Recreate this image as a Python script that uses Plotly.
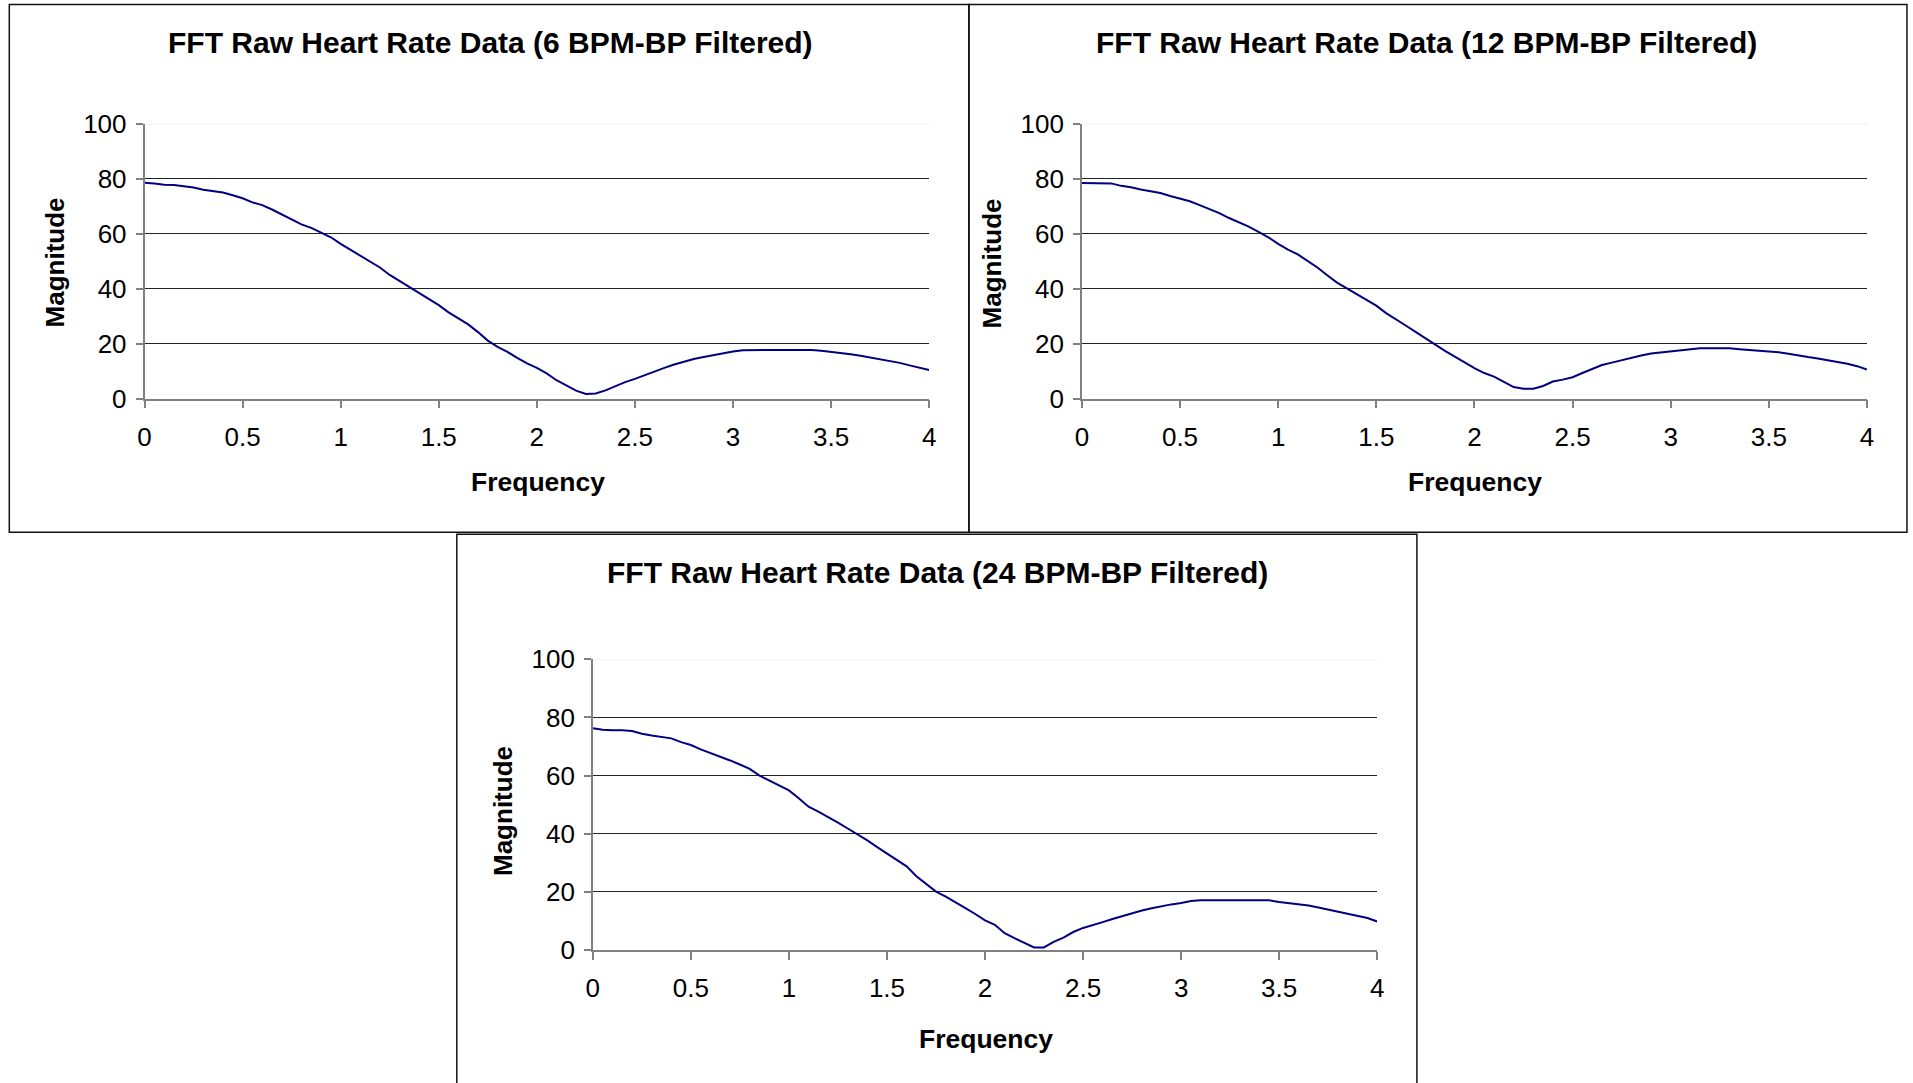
import plotly.graph_objects as go

# ---------------- data ----------------
freq = [0.00, 0.05, 0.10, 0.15, 0.20, 0.25, 0.30, 0.35, 0.40, 0.45,
        0.50, 0.55, 0.60, 0.65, 0.70, 0.75, 0.80, 0.85, 0.90, 0.95,
        1.00, 1.05, 1.10, 1.15, 1.20, 1.25, 1.30, 1.35, 1.40, 1.45,
        1.50, 1.55, 1.60, 1.65, 1.70, 1.75, 1.80, 1.85, 1.90, 1.95,
        2.00, 2.05, 2.10, 2.15, 2.20, 2.25, 2.30, 2.35, 2.40, 2.45,
        2.50, 2.55, 2.60, 2.65, 2.70, 2.75, 2.80, 2.85, 2.90, 2.95,
        3.00, 3.05, 3.10, 3.15, 3.20, 3.25, 3.30, 3.35, 3.40, 3.45,
        3.50, 3.55, 3.60, 3.65, 3.70, 3.75, 3.80, 3.85, 3.90, 3.95,
        4.00]

mag_6bpm = [78.5, 78.3, 77.8, 77.7, 77.3, 76.8, 76.0, 75.5, 75.0, 74.0,
            72.9, 71.4, 70.4, 68.8, 67.0, 64.9, 63.4, 62.1, 60.5, 58.7,
            56.3, 54.2, 52.1, 49.9, 47.7, 45.0, 42.8, 40.9, 38.7, 36.3,
            34.0, 31.4, 29.1, 27.0, 24.2, 21.1, 18.8, 17.0, 14.8, 12.8,
            11.2, 9.2, 6.7, 4.7, 2.9, 1.7, 1.9, 3.0, 4.5, 6.0,
            7.2, 8.6, 10.0, 11.2, 12.4, 13.4, 14.4, 15.1, 15.8, 16.4,
            17.1, 17.6, 17.7, 17.7, 17.7, 17.7, 17.7, 17.7, 17.7, 17.4,
            17.0, 16.7, 16.1, 15.6, 15.0, 14.3, 13.7, 13.0, 12.1, 11.3,
            10.4]

mag_12bpm = [78.4, 78.4, 78.3, 78.3, 77.4, 76.9, 76.1, 75.4, 74.8, 73.7,
             72.8, 71.8, 70.4, 69.0, 67.5, 65.7, 64.2, 62.6, 60.7, 58.7,
             56.3, 54.2, 52.5, 50.2, 47.7, 44.9, 42.2, 40.1, 38.0, 35.9,
             33.8, 31.1, 28.7, 26.6, 24.3, 22.0, 19.5, 17.4, 15.3, 13.1,
             11.1, 9.3, 8.0, 6.1, 4.2, 3.6, 3.6, 4.6, 6.2, 6.9,
             7.8, 9.3, 10.9, 12.2, 13.1, 14.0, 14.9, 15.7, 16.4, 16.8,
             17.1, 17.6, 17.9, 18.3, 18.3, 18.3, 18.3, 18.0, 17.7, 17.6,
             17.3, 16.9, 16.3, 15.6, 15.1, 14.6, 14.0, 13.4, 12.7, 11.8,
             10.6]

mag_24bpm = [76.3, 75.8, 75.6, 75.6, 75.3, 74.4, 73.8, 73.3, 72.8, 71.5,
             70.5, 69.0, 67.8, 66.6, 65.2, 63.8, 62.3, 60.0, 58.3, 56.8,
             54.9, 52.2, 49.3, 47.6, 45.8, 43.8, 41.8, 39.8, 37.7, 35.4,
             33.3, 31.0, 28.8, 25.4, 22.7, 20.1, 18.4, 16.5, 14.4, 12.4,
             10.2, 8.7, 5.8, 4.1, 2.4, 0.9, 0.9, 2.8, 4.3, 6.2,
             7.6, 8.5, 9.6, 10.7, 11.7, 12.7, 13.6, 14.4, 15.1, 15.7,
             16.2, 16.9, 17.1, 17.1, 17.1, 17.1, 17.1, 17.1, 17.1, 17.1,
             16.5, 16.1, 15.7, 15.3, 14.6, 13.9, 13.3, 12.6, 11.8, 11.0,
             9.8]

titles = ["FFT Raw Heart Rate Data (6 BPM-BP Filtered)",
          "FFT Raw Heart Rate Data (12 BPM-BP Filtered)",
          "FFT Raw Heart Rate Data (24 BPM-BP Filtered)"]
x_title = "Frequency"
y_title = "Magnitude"
x_ticks = [0, 0.5, 1, 1.5, 2, 2.5, 3, 3.5, 4]
x_ticktext = ["0", "0.5", "1", "1.5", "2", "2.5", "3", "3.5", "4"]
y_ticks = [0, 20, 40, 60, 80, 100]

# ---------------- layout geometry (target pixels on screen) ----------------
W, H = 1913, 1083
FONT = "Arial, 'Liberation Sans', sans-serif"

# the captured page is slightly offset/scaled; compensate
SX, OX = 0.9926, 6.2
SY, OY = 0.971, 14.4


def px(x):
    return ((x - OX) / SX) / W


def py(y):
    return (H - (y - OY) / SY) / H


# plot areas: (x_left, x_right, y_top, y_bottom)
areas = [(143.7, 928.3, 123.0, 397.5),
         (1081.0, 1866.0, 123.0, 397.5),
         (592.0, 1376.3, 657.8, 948.2)]
# frames: (x0, x1, y_top, y_bottom)
frames = [(8.5, 968.0, 4.0, 531.0),
          (968.0, 1906.0, 4.0, 531.0),
          (456.0, 1416.0, 533.0, 1110.0)]
title_pos = [(490, 41.5), (1426, 41.5), (937, 571)]
xtitle_pos = [(537, 481), (1474, 481), (985, 1037)]
ytitle_pos = [(53.7, 262), (990.6, 262), (501.5, 809)]

series = [mag_6bpm, mag_12bpm, mag_24bpm]

fig = go.Figure()
layout = dict(
    width=W, height=H,
    margin=dict(l=0, r=0, t=0, b=0),
    paper_bgcolor="white", plot_bgcolor="white",
    showlegend=False,
    font=dict(family=FONT, color="black"),
)
shapes = []
annotations = []

for i in range(3):
    sfx = "" if i == 0 else str(i + 1)
    xa = "x" + sfx
    ya = "y" + sfx
    fig.add_trace(go.Scatter(
        x=freq, y=series[i], mode="lines",
        line=dict(color="#000080", width=2),
        xaxis=xa, yaxis=ya, hoverinfo="x+y",
    ))
    xl, xr, yt, yb = areas[i]
    layout["xaxis" + sfx] = dict(
        domain=[px(xl), px(xr)], anchor=ya, range=[0, 4],
        tickvals=x_ticks, ticktext=x_ticktext,
        showline=True, linecolor="#808080", linewidth=1.5,
        ticks="outside", ticklen=8, tickcolor="#808080", tickwidth=1.5,
        showgrid=False, zeroline=False,
        tickfont=dict(family=FONT, size=26, color="black"),
        ticklabelstandoff=6,
        fixedrange=True,
    )
    layout["yaxis" + sfx] = dict(
        domain=[py(yb), py(yt)], anchor=xa, range=[0, 100],
        tickvals=y_ticks,
        showline=True, linecolor="#808080", linewidth=1.5,
        ticks="outside", ticklen=7, tickcolor="#808080", tickwidth=1.5,
        showgrid=True, gridcolor="#222222", gridwidth=1.2,
        zeroline=False,
        tickfont=dict(family=FONT, size=26, color="black"),
        ticklabelstandoff=4,
        fixedrange=True,
    )
    # very light top gridline at 100 (drawn over the dark one)
    shapes.append(dict(type="line", xref=xa + " domain", yref=ya,
                       x0=0.003, x1=1, y0=100, y1=100,
                       line=dict(color="#eeeeee", width=2), layer="above"))
    # chart frame
    fx0, fx1, fyt, fyb = frames[i]
    shapes.append(dict(type="rect", xref="paper", yref="paper",
                       x0=px(fx0), x1=px(fx1), y0=py(fyb), y1=py(fyt),
                       line=dict(color="#111111", width=1.5),
                       fillcolor="rgba(0,0,0,0)", layer="above"))
    tx, ty = title_pos[i]
    annotations.append(dict(text="<b>" + titles[i] + "</b>", xref="paper", yref="paper",
                            x=px(tx), y=py(ty), xanchor="center", yanchor="middle",
                            showarrow=False, font=dict(family=FONT, size=30, color="black")))
    ax_, ay_ = xtitle_pos[i]
    annotations.append(dict(text="<b>" + x_title + "</b>", xref="paper", yref="paper",
                            x=px(ax_), y=py(ay_), xanchor="center", yanchor="middle",
                            showarrow=False, font=dict(family=FONT, size=26.5, color="black")))
    bx, by = ytitle_pos[i]
    annotations.append(dict(text="<b>" + y_title + "</b>", xref="paper", yref="paper",
                            x=px(bx), y=py(by), xanchor="center", yanchor="middle",
                            textangle=-90,
                            showarrow=False, font=dict(family=FONT, size=26, color="black")))

layout["shapes"] = shapes
layout["annotations"] = annotations
fig.update_layout(**layout)
fig.write_html(
    "out.html",
    config={"displayModeBar": False},
    post_script="document.body.style.margin='0';document.body.style.overflow='hidden';",
)
